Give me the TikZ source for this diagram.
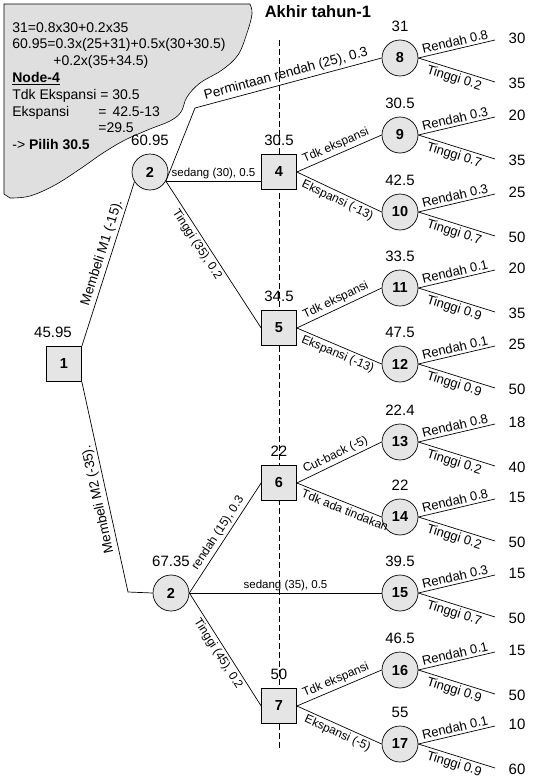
\documentclass[tikz,border=0pt]{standalone}
\usepackage{fontspec}
\setmainfont{Liberation Sans}
\newcommand{\fsz}[1]{\fontsize{#1}{#1}\selectfont}
\begin{document}
\begin{tikzpicture}[x=1pt,y=-1pt,line width=0.7pt,
  sq/.style={draw,fill=gray!20,minimum size=35pt,inner sep=0pt,font=\bfseries\fsz{14.5}},
  cir/.style={sq,circle,minimum size=36pt},
  val/.style={font=\fsz{15},inner sep=0pt},
  every label/.append style={val}, label distance=8pt,
  lab/.style={sloped,inner sep=2.5pt,font=\fsz{12}},
  leaf/.style={lab,font=\fsz{13}},
  big/.style={lab,font=\fsz{13.5}},
  flat/.style={above,inner sep=2pt,font=\fsz{11.5}},
  note/.style={anchor=north west,inner sep=0pt,align=left,font=\fontsize{14}{16.8}\selectfont}]
\useasboundingbox (0,0) rectangle (540,780);
\draw[fill=gray!25,line width=0.6pt] plot[smooth,tension=0.6] coordinates {(250,4) (252,14) (247,33) (238,55) (222,70) (200,83) (187,97) (181,112) (170,121) (150,129) (125,140) (103,153) (80,169) (55,185) (30,196) (10,198)} -- (4,194) -- (4,4) -- cycle;
\node[note] (hitung) at (12,22) {31=0.8x30+0.2x35\\60.95=0.3x(25+31)+0.5x(30+30.5)\\\hspace*{41pt}+0.2x(35+34.5)\\\textbf{\underline{Node-4}}\\Tdk Ekspansi = 30.5\\\makebox[86pt][l]{Ekspansi}=\hspace{6pt}42.5-13\\\hspace*{86pt}=29.5\\-> \textbf{Pilih 30.5}};
\node[font=\bfseries\fsz{16.5}] (judul) at (318,12) {Akhir tahun-1};
\coordinate (dtop) at (279,40); \coordinate (dbot) at (279,751);
\draw[dash pattern=on 6pt off 3pt] (dtop) -- (dbot);
\coordinate (benda) at (195,108); \coordinate (bendb) at (128,592);
\node[sq,label distance=12pt,label={[xshift=-11pt]above:45.95}] (sq1) at (64,364) {1};
\node[cir,label distance=4pt,label={above:60.95}] (c2a) at (150,172) {2};
\node[cir,label distance=6pt,label={above:67.35}] (c2b) at (171,593) {2};
\node[sq,label={above:30.5}] (sq4) at (279,172) {4};
\node[sq,label={above:34.5}] (sq5) at (279,328) {5};
\node[sq,label={above:22}] (sq6) at (279,483) {6};
\node[sq,label distance=12pt,label={above:50}] (sq7) at (279,706) {7};
\foreach \n/\y/\v in {8/58/31,9/135/30.5,10/212/42.5,11/288/33.5,12/364/47.5,13/442/22.4,14/517/22,15/593/39.5,16/670/46.5,17/744/55}
  \node[cir,label={above:\v}] (c\n) at (400,\y) {\n};
\foreach \n/\y/\a/\b/\p/\q in {8/58/0.8/0.2/30/35,9/135/0.3/0.7/20/35,10/212/0.3/0.7/25/50,11/288/0.1/0.9/20/35,12/364/0.1/0.9/25/50,13/442/0.8/0.2/18/40,14/517/0.8/0.2/15/50,15/593/0.3/0.7/15/50,16/670/0.1/0.9/15/50,17/744/0.1/0.9/10/60}{
  \coordinate (eh\n) at (495,\y-18); \coordinate (el\n) at (495,\y+24);
  \node[val] (hi\n) at (517,\y-20) {\p}; \node[val] (lo\n) at (517,\y+25) {\q};
  \draw (c\n.east) -- node[leaf,above]{Rendah \a} (eh\n); \draw (c\n.east) -- node[leaf,below]{Tinggi \b} (el\n);
}
\draw (sq1.north east) -- node[big,above,pos=.55]{Membeli M1 (-15).} (c2a.-148);
\draw (c2b.west) -- (bendb) -- node[big,above,allow upside down,pos=.45]{Membeli M2 (-35).} (sq1.south east);
\draw (c2a.-30) -- (benda) -- node[big,above]{Permintaan rendah (25), 0.3} (c8.west);
\draw (c2a.-30) -- node[flat]{sedang (30), 0.5} (c2a.-30 -| sq4.west);
\draw (c2a.-30) -- node[lab,below,pos=.4]{Tinggi (35), 0.2} (sq5.west);
\draw (c2b.east) -- node[lab,above]{rendah (15), 0.3} (sq6.west);
\draw (c2b.east) -- node[flat]{sedang (35), 0.5} (c15.west);
\draw (c2b.east) -- node[lab,below]{Tinggi (45), 0.2} (sq7.west);
\draw (sq4.east) -- node[lab,above]{Tdk ekspansi} (c9.west); \draw (sq4.east) -- node[lab,below,pos=.52]{Ekspansi (-13)} (c10.west);
\draw (sq5.east) -- node[lab,above]{Tdk ekspansi} (c11.west); \draw (sq5.east) -- node[lab,below,pos=.52]{Ekspansi (-13)} (c12.west);
\draw (sq6.east) -- node[lab,above]{Cut-back (-5)} (c13.west); \draw (sq6.east) -- node[lab,below,pos=.6]{Tdk ada tindakan} (c14.west);
\draw (sq7.east) -- node[lab,above]{Tdk ekspansi} (c16.west); \draw (sq7.east) -- node[lab,below,pos=.52]{Ekspansi (-5)} (c17.west);
\end{tikzpicture}
\end{document}
